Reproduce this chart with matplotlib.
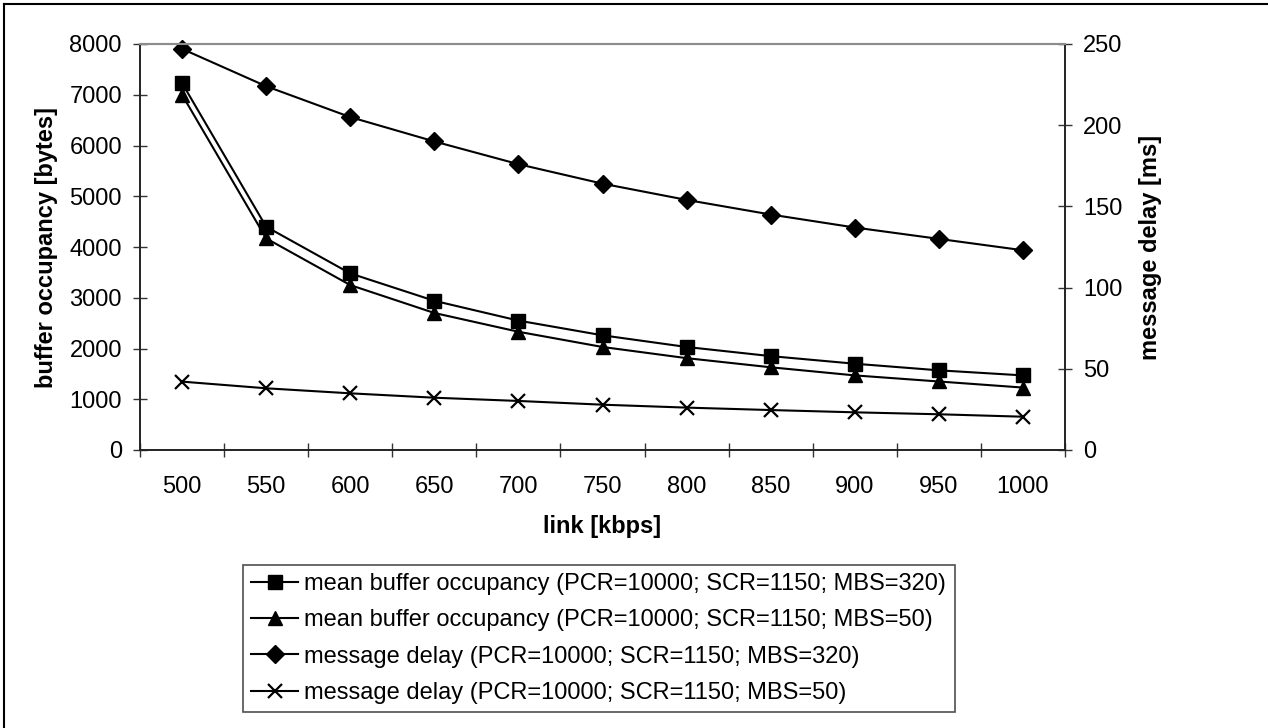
import matplotlib.pyplot as plt
from matplotlib.lines import Line2D

plt.rcParams['font.family'] = ['Liberation Sans', 'DejaVu Sans']

# categories on the x axis (link rate)
links = [500, 550, 600, 650, 700, 750, 800, 850, 900, 950, 1000]

# left axis: buffer occupancy [bytes]
buf_mbs320 = [7230, 4400, 3480, 2940, 2550, 2260, 2030, 1850, 1700, 1570, 1470]
buf_mbs50 = [7000, 4170, 3250, 2700, 2330, 2030, 1810, 1630, 1470, 1350, 1230]

# right axis: message delay [ms]
delay_mbs320 = [247, 224, 205, 190, 176, 164, 154, 145, 137, 130, 123]
delay_mbs50 = [42.1, 38.0, 34.9, 32.2, 30.2, 27.9, 26.1, 24.6, 23.2, 22.0, 20.5]

labels = [
    "mean buffer occupancy (PCR=10000; SCR=1150; MBS=320)",
    "mean buffer occupancy (PCR=10000; SCR=1150; MBS=50)",
    "message delay (PCR=10000; SCR=1150; MBS=320)",
    "message delay (PCR=10000; SCR=1150; MBS=50)",
]

W, H = 1268, 728
fig = plt.figure(figsize=(W / 100, H / 100), dpi=100)
ax = fig.add_axes([140 / W, 1 - 450 / H, 925 / W, 406 / H])
ax2 = ax.twinx()

x = list(range(len(links)))
lw = 1.5
h1, = ax.plot(x, buf_mbs320, color='black', lw=lw, marker='s', ms=10, label=labels[0], clip_on=False)
h2, = ax.plot(x, buf_mbs50, color='black', lw=lw, marker='^', ms=10.5, label=labels[1], clip_on=False)
h3, = ax2.plot(x, delay_mbs320, color='black', lw=lw, marker='D', ms=9.5, label=labels[2], clip_on=False)
h4, = ax2.plot(x, delay_mbs50, color='black', lw=lw, marker='x', ms=10, mew=1.6, label=labels[3], clip_on=False)

ax.set_xlim(-0.5, len(links) - 0.5)
ax.set_ylim(0, 8000)
ax2.set_ylim(0, 250)
ax.set_yticks(range(0, 8001, 1000))
ax2.set_yticks(range(0, 251, 50))

# tick marks between categories, labels at category centres
ax.set_xticks([i - 0.5 for i in range(len(links) + 1)])
ax.set_xticklabels([])
ax.set_xticks(x, minor=True)
ax.set_xticklabels([str(v) for v in links], minor=True)

fs = 17
ax.tick_params(axis='x', which='major', direction='inout', length=10, width=1, color='#333333')
ax.tick_params(axis='x', which='minor', length=0, pad=19, labelsize=fs)
ax.tick_params(axis='y', direction='inout', length=10, width=1, pad=8, labelsize=fs, color='#333333')
ax2.tick_params(axis='y', direction='inout', length=10, width=1, pad=8, labelsize=fs, color='#333333')

for a in (ax, ax2):
    a.spines['top'].set_color('#8c8c8c')
    a.spines['top'].set_linewidth(1.5)
    for s in ('left', 'bottom', 'right'):
        a.spines[s].set_color('#222222')
        a.spines[s].set_linewidth(1.2)

ax.set_xlabel("link [kbps]", fontsize=fs, fontweight='bold', labelpad=12)
ax.set_ylabel("buffer occupancy [bytes]", fontsize=fs, fontweight='bold', labelpad=8)
ax2.set_ylabel("message delay [ms]", fontsize=fs, fontweight='bold', labelpad=12)

leg = fig.legend([h1, h2, h3, h4], labels, loc='upper left',
                 bbox_to_anchor=(243 / W, 1 - 565 / H), bbox_transform=fig.transFigure,
                 fontsize=fs, frameon=True, fancybox=False, edgecolor='#222222',
                 handlelength=2.0, handletextpad=0.25, borderpad=0.35,
                 labelspacing=0.6, borderaxespad=0)
leg.get_frame().set_linewidth(1.2)

# outer chart border (only left and top are inside the image)
fig.add_artist(Line2D([4 / W, 4 / W], [0, 1 - 4 / H], transform=fig.transFigure, color='black', lw=1.5))
fig.add_artist(Line2D([4 / W, 1], [1 - 4 / H, 1 - 4 / H], transform=fig.transFigure, color='black', lw=1.5))

fig.savefig("out.png", dpi=100)
